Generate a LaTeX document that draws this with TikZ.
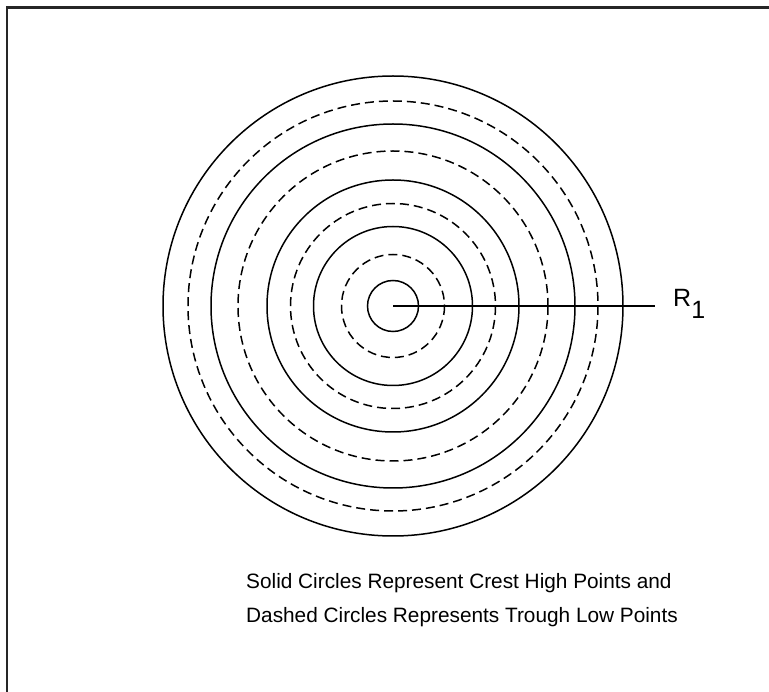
\documentclass[tikz,border=0pt]{standalone}
\usepackage{fontspec}
\setmainfont{Liberation Sans}
\begin{document}
\begin{tikzpicture}[x=1pt,y=-1pt,
  crest/.style={line width=1.5pt},
  trough/.style={line width=1.5pt, dash pattern=on 9pt off 5pt},
  framestyle/.style={line width=2.2pt, draw=black!85},
  caption/.style={font=\fontsize{20.8pt}{34pt}\selectfont, align=left, inner sep=0pt, anchor=base west}]
\useasboundingbox (0,0) rectangle (769,692);
\coordinate (c) at (393,306);
% frame (only top and left visible)
\draw[framestyle] (7,692) -- (7,7.5) -- (769,7.5);
% circles
\foreach \r in {25.5,79.5,126,182,230} \draw[crest] (c) circle (\r);
\foreach \r in {51.5,102.5,155,205} \draw[trough] (c) circle (\r);
% radius line and label
\node[inner sep=0pt, anchor=base west, font=\fontsize{25pt}{30pt}\selectfont] (lab) at (673,307) {R\raisebox{-12pt}{1}};
\coordinate (lend) at (655,306);
\draw[crest] (c) -- (lend);
\node[caption] (cap) at (246,622) {Solid Circles Represent Crest High Points and\\Dashed Circles Represents Trough Low Points};
\end{tikzpicture}
\end{document}
